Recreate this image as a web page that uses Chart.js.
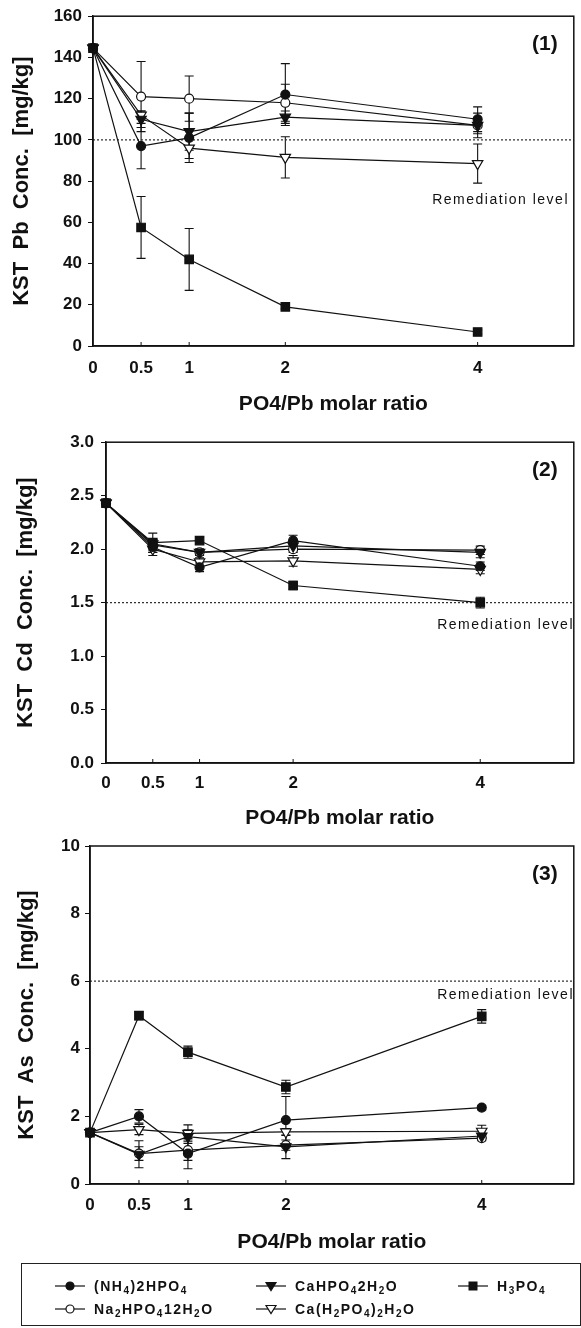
<!DOCTYPE html>
<html>
<head>
<meta charset="utf-8">
<script src="https://cdn.jsdelivr.net/npm/chart.js@4.4.1/dist/chart.umd.min.js"></script>
<style>
  html, body { margin: 0; padding: 0; background: #fff; }
  body { width: 581px; height: 1328px; position: relative; overflow: hidden; font-family: 'Liberation Sans', Arial, sans-serif; color: #111; }
  canvas { position: absolute; left: 0; }
  #legend { position: absolute; left: 21px; top: 1263px; width: 560px; height: 63px; border: 1px solid #222; box-sizing: border-box; }
  .item { position: absolute; height: 18px; display: flex; align-items: center; font-weight: bold; font-size: 14px; letter-spacing: 1.5px; white-space: nowrap; }
  .item svg { margin-right: 9px; }
  .item sub { font-size: 10px; vertical-align: -3px; line-height: 0; }
</style>
</head>
<body>
<canvas id="pbChart" width="581" height="425" style="top:0px"></canvas>
<canvas id="cdChart" width="581" height="415" style="top:425px"></canvas>
<canvas id="asChart" width="581" height="432" style="top:826px"></canvas>
<div id="legend"></div>
<script>
// x positions (PO4/Pb molar ratio) and axis ticks
const ratios = [0, 0.5, 1, 2, 4];
const xTickValues = [0, 0.5, 1, 2, 4];

const seriesNames = [
    '(NH<sub>4</sub>)2HPO<sub>4</sub>',
    'CaHPO<sub>4</sub>2H<sub>2</sub>O',
    'H<sub>3</sub>PO<sub>4</sub>',
    'Na<sub>2</sub>HPO<sub>4</sub>12H<sub>2</sub>O',
    'Ca(H<sub>2</sub>PO<sub>4</sub>)<sub>2</sub>H<sub>2</sub>O'
];

// (1) Pb
const pbTicks = [0, 20, 40, 60, 80, 100, 120, 140, 160];
const pbNH4 = [144.5, 97, 101, 122, 110];
const pbNH4Err = [0, 11, 12, 15, 6];
const pbCaHPO4 = [144.5, 110, 104, 111, 107];
const pbCaHPO4Err = [0, 4, 9, 3, 4];
const pbH3PO4 = [144.5, 57.5, 42, 19, 6.8];
const pbH3PO4Err = [0, 15, 15, 1, 1];
const pbNa2HPO4 = [144.5, 121, 120, 118, 107];
const pbNa2HPO4Err = [0, 17, 11, 9, 6];
const pbCaH2PO4 = [144.5, 112, 96, 91.5, 88.5];
const pbCaH2PO4Err = [0, 2, 5, 10, 9.5];
const pbLimit = 100;

// (2) Cd
const cdTicks = [0, 0.5, 1, 1.5, 2, 2.5, 3];
const cdNH4 = [2.43, 2.02, 1.83, 2.08, 1.84];
const cdNH4Err = [0.03, 0.05, 0.04, 0.05, 0.04];
const cdCaHPO4 = [2.43, 2.05, 1.97, 2.03, 1.97];
const cdCaHPO4Err = [0, 0.04, 0.03, 0.04, 0.05];
const cdH3PO4 = [2.43, 2.06, 2.08, 1.66, 1.5];
const cdH3PO4Err = [0, 0.09, 0.03, 0.04, 0.05];
const cdNa2HPO4 = [2.43, 2.04, 1.97, 2.0, 1.99];
const cdNa2HPO4Err = [0, 0.05, 0.03, 0.03, 0.04];
const cdCaH2PO4 = [2.43, 2.0, 1.88, 1.89, 1.81];
const cdCaH2PO4Err = [0, 0.06, 0.04, 0.05, 0.04];
const cdLimit = 1.5;

// (3) As
const asTicks = [0, 2, 4, 6, 8, 10];
const asNH4 = [1.52, 2.0, 0.9, 1.89, 2.26];
const asNH4Err = [0, 0.2, 0.45, 0.7, 0.07];
const asCaHPO4 = [1.52, 0.88, 1.4, 1.1, 1.42];
const asCaHPO4Err = [0, 0.4, 0.2, 0.35, 0.08];
const asH3PO4 = [1.52, 4.98, 3.9, 2.87, 4.96];
const asH3PO4Err = [0, 0.12, 0.18, 0.2, 0.2];
const asNa2HPO4 = [1.52, 0.9, 1.0, 1.15, 1.36];
const asNa2HPO4Err = [0, 0.2, 0.3, 0.15, 0.08];
const asCaH2PO4 = [1.52, 1.61, 1.5, 1.54, 1.56];
const asCaH2PO4Err = [0, 0.15, 0.25, 0.1, 0.18];
const asLimit = 6;

const INK = '#111';
const FONT = '"Liberation Sans", Arial, sans-serif';
Chart.defaults.font.family = FONT;
Chart.defaults.color = INK;

// marker look per series, same order as seriesNames
const markers = [
    { style: 'circle', radius: 4.5, fill: INK },
    { style: 'triangle', radius: 6, fill: INK, rotation: 180 },
    { style: 'rect', radius: 6, fill: INK },
    { style: 'circle', radius: 4.5, fill: '#fff' },
    { style: 'triangle', radius: 6, fill: '#fff', rotation: 180 }
];

const toPoints = (vals) => ratios.map((x, i) => ({ x, y: vals[i] }));

// error bars under the markers, frame, inward x ticks, panel labels
const panelDecor = {
    id: 'panelDecor',
    beforeDatasetsDraw(chart) {
        const { ctx, scales: { x, y } } = chart;
        ctx.save();
        ctx.strokeStyle = INK;
        ctx.lineWidth = 1.1;
        chart.data.datasets.forEach(ds => {
            if (!ds.errors) return;
            ds.data.forEach((p, i) => {
                const e = ds.errors[i];
                if (!e) return;
                const px = x.getPixelForValue(p.x);
                const top = y.getPixelForValue(p.y + e);
                const bot = y.getPixelForValue(p.y - e);
                ctx.beginPath();
                ctx.moveTo(px, top); ctx.lineTo(px, bot);
                ctx.moveTo(px - 4.5, top); ctx.lineTo(px + 4.5, top);
                ctx.moveTo(px - 4.5, bot); ctx.lineTo(px + 4.5, bot);
                ctx.stroke();
            });
        });
        ctx.restore();
    },
    afterDraw(chart, args, opts) {
        const { ctx, chartArea: a, scales: { x, y } } = chart;
        ctx.save();
        ctx.strokeStyle = INK;
        ctx.lineWidth = 1.5;
        ctx.strokeRect(a.left, a.top, a.right - a.left, a.bottom - a.top);
        ctx.lineWidth = 1;
        xTickValues.slice(1).forEach(v => {
            const px = x.getPixelForValue(v);
            ctx.beginPath();
            ctx.moveTo(px, a.bottom);
            ctx.lineTo(px, a.bottom - 4);
            ctx.stroke();
        });
        ctx.fillStyle = INK;
        ctx.font = 'bold 21px ' + FONT;
        ctx.textAlign = 'center';
        ctx.textBaseline = 'middle';
        ctx.fillText(opts.tag, a.right - 29, a.top + 28);
        ctx.font = '14px ' + FONT;
        ctx.letterSpacing = '1.5px';
        ctx.textAlign = 'right';
        ctx.fillText('Remediation level', opts.labelRight, y.getPixelForValue(opts.labelY));
        ctx.restore();
    }
};

const makePanel = (id, p) => {
    const datasets = p.series.map((vals, i) => {
        const m = markers[i];
        return {
            data: toPoints(vals),
            errors: p.errors[i],
            showLine: true,
            borderColor: INK,
            borderWidth: 1.2,
            pointStyle: m.style,
            pointRadius: m.radius,
            pointRotation: m.rotation || 0,
            pointBackgroundColor: m.fill,
            pointBorderColor: INK,
            pointBorderWidth: 1.2,
            clip: false
        };
    });
    // dotted remediation level line
    datasets.push({
        data: [{ x: 0, y: p.limit }, { x: p.xMax, y: p.limit }],
        showLine: true,
        borderColor: '#333',
        borderWidth: 1.3,
        borderDash: [2, 2],
        pointRadius: 0
    });

    return new Chart(document.getElementById(id), {
        type: 'scatter',
        data: { datasets },
        plugins: [panelDecor],
        options: {
            responsive: false,
            animation: false,
            events: [],
            layout: { padding: { top: p.padTop, right: p.padRight, left: 0, bottom: 0 } },
            plugins: {
                legend: { display: false },
                tooltip: { enabled: false },
                panelDecor: { tag: p.tag, labelRight: p.labelRight, labelY: p.labelY }
            },
            scales: {
                x: {
                    type: 'linear',
                    min: 0,
                    max: p.xMax,
                    afterBuildTicks: axis => { axis.ticks = xTickValues.map(v => ({ value: v })); },
                    afterFit: axis => { axis.height = p.xAxisHeight; },
                    grid: { display: false, drawTicks: false },
                    border: { display: true, color: INK, width: 1.5 },
                    ticks: {
                        padding: p.xTickPad,
                        autoSkip: false,
                        maxRotation: 0,
                        font: { size: 17, weight: 'bold' },
                        callback: v => String(v)
                    },
                    title: {
                        display: true,
                        text: 'PO4/Pb molar ratio',
                        font: { size: 21, weight: 'bold' },
                        padding: { top: 0, bottom: p.xTitlePad }
                    }
                },
                y: {
                    type: 'linear',
                    min: p.yTicks[0],
                    max: p.yTicks[p.yTicks.length - 1],
                    afterBuildTicks: axis => { axis.ticks = p.yTicks.map(v => ({ value: v })); },
                    afterFit: axis => { axis.width = p.yAxisWidth; },
                    grid: { drawOnChartArea: false, drawTicks: true, tickLength: 5, color: INK, lineWidth: 1 },
                    border: { display: true, color: INK, width: 1.5 },
                    ticks: {
                        padding: p.yTickPad,
                        font: { size: 17, weight: 'bold' },
                        callback: p.yFormat
                    },
                    title: {
                        display: true,
                        text: p.yTitle,
                        font: { size: 22, weight: 'bold' },
                        padding: { top: p.yTitlePad, bottom: 0 }
                    }
                }
            }
        }
    });
};

makePanel('pbChart', {
    tag: '(1)',
    series: [pbNH4, pbCaHPO4, pbH3PO4, pbNa2HPO4, pbCaH2PO4],
    errors: [pbNH4Err, pbCaHPO4Err, pbH3PO4Err, pbNa2HPO4Err, pbCaH2PO4Err],
    limit: pbLimit,
    yTicks: pbTicks,
    yFormat: v => String(v),
    yTitle: 'KST  Pb  Conc.  [mg/kg]',
    xMax: 5,
    padTop: 16, padRight: 3,
    yAxisWidth: 93, yTickPad: 6, yTitlePad: 9,
    xAxisHeight: 79, xTickPad: 12, xTitlePad: 8,
    labelRight: 569, labelY: 71
});

makePanel('cdChart', {
    tag: '(2)',
    series: [cdNH4, cdCaHPO4, cdH3PO4, cdNa2HPO4, cdCaH2PO4],
    errors: [cdNH4Err, cdCaHPO4Err, cdH3PO4Err, cdNa2HPO4Err, cdCaH2PO4Err],
    limit: cdLimit,
    yTicks: cdTicks,
    yFormat: v => v.toFixed(1),
    yTitle: 'KST  Cd  Conc.  [mg/kg]',
    xMax: 5,
    padTop: 14, padRight: 1,
    yAxisWidth: 106, yTickPad: 7, yTitlePad: 13,
    xAxisHeight: 77, xTickPad: 10, xTitlePad: 9,
    labelRight: 574, labelY: 1.29
});

makePanel('asChart', {
    tag: '(3)',
    series: [asNH4, asCaHPO4, asH3PO4, asNa2HPO4, asCaH2PO4],
    errors: [asNH4Err, asCaHPO4Err, asH3PO4Err, asNa2HPO4Err, asCaH2PO4Err],
    limit: asLimit,
    yTicks: asTicks,
    yFormat: v => String(v),
    yTitle: 'KST  As  Conc.  [mg/kg]',
    xMax: 4.94,
    padTop: 20, padRight: 1,
    yAxisWidth: 90, yTickPad: 5, yTitlePad: 14,
    xAxisHeight: 74, xTickPad: 11, xTitlePad: 3,
    labelRight: 574, labelY: 5.59
});

// legend box, symbols drawn as small svg
const symbolSvg = (m) => {
    let mark;
    if (m.style === 'circle') {
        mark = `<circle cx="15" cy="7" r="4" fill="${m.fill}" stroke="${INK}" stroke-width="1.2"/>`;
    } else if (m.style === 'rect') {
        mark = `<rect x="11" y="3" width="8" height="8" fill="${m.fill}" stroke="${INK}" stroke-width="1"/>`;
    } else {
        mark = `<polygon points="10,3.5 20,3.5 15,11.5" fill="${m.fill}" stroke="${INK}" stroke-width="1.2"/>`;
    }
    return `<svg width="30" height="14" viewBox="0 0 30 14"><line x1="0" y1="7" x2="30" y2="7" stroke="${INK}" stroke-width="1.2"/>${mark}</svg>`;
};

const legendSlots = [[33, 13], [234, 13], [436, 13], [33, 36], [234, 36]];
const legendEl = document.getElementById('legend');
seriesNames.forEach((name, i) => {
    const item = document.createElement('div');
    item.className = 'item';
    item.style.left = legendSlots[i][0] + 'px';
    item.style.top = legendSlots[i][1] + 'px';
    item.innerHTML = symbolSvg(markers[i]) + '<span>' + name + '</span>';
    legendEl.appendChild(item);
});
</script>
</body>
</html>
